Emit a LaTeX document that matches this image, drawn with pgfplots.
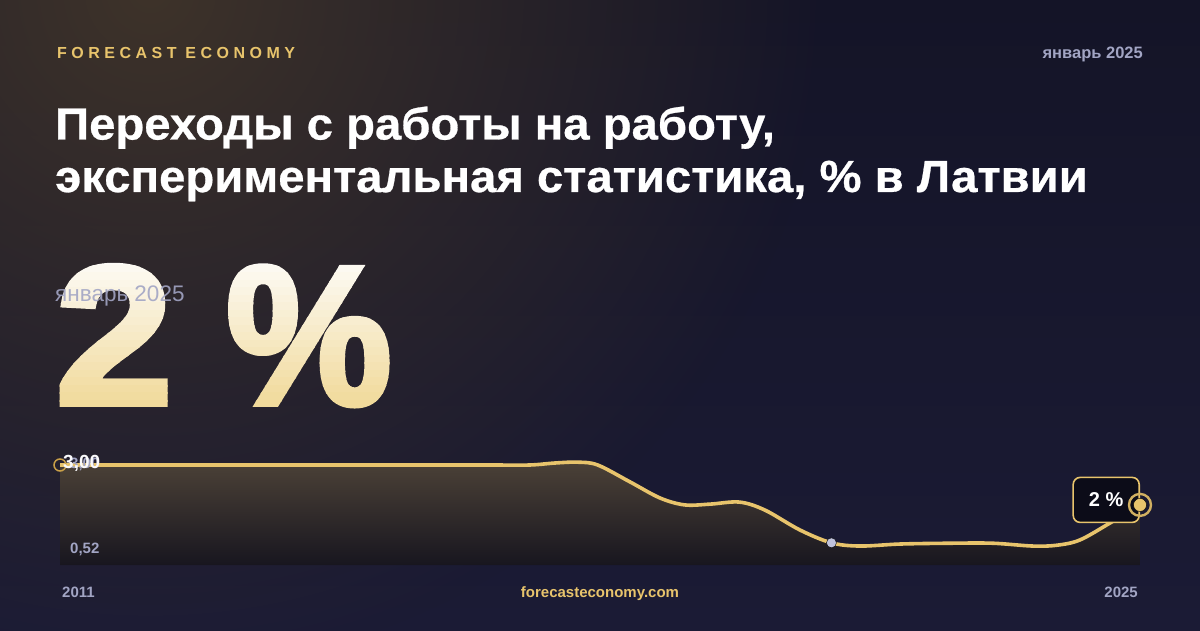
\documentclass[border=0pt]{standalone}
\usepackage{pgfplots}
\pgfplotsset{compat=1.18}
\usepackage{pgfplotstable}
\usetikzlibrary{fadings}
\usepackage{fontspec}
\setmainfont{Liberation Sans}
\newfontfamily\brand{Liberation Sans}[LetterSpace=28]
\newfontfamily\titlefont{Liberation Sans}[BoldFeatures={FakeStretch=1.05, FakeBold=0.6}]
\newfontfamily\bignum{Liberation Sans}[BoldFeatures={FakeBold=3, FakeStretch=1.07}]
\newfontfamily\bigpct{Liberation Sans}[BoldFeatures={FakeBold=3}]

\definecolor{bgtop}{HTML}{141427}
\definecolor{bgbot}{HTML}{1B1B35}
\definecolor{glow}{HTML}{3E332A}
\definecolor{gold}{HTML}{E8C46C}
\definecolor{golddark}{HTML}{C9A048}
\definecolor{lav}{HTML}{A2A5C4}
\definecolor{lavdot}{HTML}{C0C3DD}
\definecolor{filltop}{HTML}{4B4137}
\definecolor{fillbot}{HTML}{18161F}
\definecolor{numtop}{HTML}{FDFBF6}
\definecolor{numbot}{HTML}{F0D896}
\definecolor{boxbg}{HTML}{0C0C18}

\tikzfading[name=glowfade, inner color=transparent!0, outer color=transparent!100]

% job-to-job transitions, %
\pgfplotstableread{
year    val
2011.00 3.00
2012.00 3.00
2013.00 3.00
2014.00 3.00
2015.00 3.00
2016.00 3.00
2016.60 3.00
2017.09 3.00
2017.42 3.05
2017.71 3.07
2017.97 3.00
2018.39 2.58
2018.78 2.18
2019.10 2.01
2019.43 2.03
2019.81 2.08
2020.14 1.88
2020.59 1.39
2021.00 1.07
2021.37 0.99
2021.89 1.04
2022.54 1.06
2023.09 1.06
2023.61 0.99
2023.92 1.01
2024.22 1.14
2024.61 1.56
2025.00 2.01
}\jtj

\begin{document}
\begin{tikzpicture}[x=1pt,y=1pt]
% background
\shade[top color=bgtop, bottom color=bgbot] (0,0) rectangle (1200,630);
\begin{scope}
  \clip (0,0) rectangle (1200,630);
  \fill[glow, path fading=glowfade] (150,640) circle (680);
\end{scope}

% header
\node[anchor=base west, inner sep=0, text=gold, font=\brand\bfseries\fontsize{16}{16}\selectfont] at (57,571) {FORECAST ECONOMY};
\node[anchor=base east, inner sep=0, text=lav, font=\bfseries\fontsize{16.5}{16.5}\selectfont] at (1143,571) {январь 2025};

% title
\node[anchor=base west, inner sep=0, text=white, font=\titlefont\bfseries\fontsize{45}{45}\selectfont] at (55,490.5) {Переходы с работы на работу,};
\node[anchor=base west, inner sep=0, text=white, font=\titlefont\bfseries\fontsize{45}{45}\selectfont] at (55,438) {экспериментальная статистика, \% в Латвии};

% big number with a banded gradient
\foreach \i in {0,...,19}{
  \pgfmathtruncatemacro{\p}{100-5*\i}
  \colorlet{bandcol}{numtop!\p!numbot}
  \begin{scope}
    \clip (0,{372-7.5*\i}) rectangle (700,{372-7.5*(\i+1)-0.6});
    \node[anchor=base west, inner sep=0, text=bandcol, font=\bignum\bfseries\fontsize{198}{198}\selectfont] at (55,226) {2};
    \node[anchor=base west, inner sep=0, xscale=0.94, text=bandcol, font=\bigpct\bfseries\fontsize{198}{198}\selectfont] at (226,226) {\%};
  \end{scope}
}
\node[anchor=base west, inner sep=0, text=lav, opacity=0.9, font=\fontsize{22.5}{22.5}\selectfont] at (55,328) {январь 2025};

\begin{axis}[
  at={(60pt,65pt)}, anchor=south west,
  scale only axis, width=1080pt, height=110pt,
  xmin=2011, xmax=2025, ymin=0.52, ymax=3.248,
  axis lines=none, ticks=none,
]
\addplot[draw=none, top color=filltop, bottom color=fillbot, smooth, tension=0.55] table[x=year, y=val] {\jtj} \closedcycle;
\addplot[gold, line width=3.6pt, smooth, tension=0.55] table[x=year, y=val] {\jtj};
\node[draw=gold, line width=1.6pt, fill=boxbg, rounded corners=7pt, minimum width=66pt, minimum height=45pt,
      anchor=east, inner sep=0, text=white, font=\bfseries\fontsize{20}{20}\selectfont]
      at (axis cs:2025,2.01) [yshift=5pt] {2 \%};
\addplot[only marks, mark=*, mark size=5pt, mark options={fill=lavdot, draw=none}] coordinates {(2021.00,1.07)};
\addplot[only marks, mark=o, mark size=6pt, mark options={draw=golddark, line width=1.5pt}] coordinates {(2011,3.00)};
\addplot[only marks, mark=o, mark size=11pt, mark options={draw=gold!90!black, line width=2.4pt}] coordinates {(2025,2.01)};
\addplot[only marks, mark=*, mark size=6.5pt, mark options={fill=gold, draw=none}] coordinates {(2025,2.01)};
\end{axis}

% value labels
\node[anchor=base west, inner sep=0, text=lav, font=\bfseries\fontsize{15}{15}\selectfont] at (70,161) {3,00};
\node[anchor=base west, inner sep=0, text=white!95!lav, font=\bfseries\fontsize{19}{19}\selectfont] at (63,161) {3,00};
\node[anchor=base west, inner sep=0, text=lav, font=\bfseries\fontsize{15}{15}\selectfont] at (70,77) {0,52};

% footer
\node[anchor=base west, inner sep=0, text=lav, font=\bfseries\fontsize{15}{15}\selectfont] at (62,33) {2011};
\node[anchor=base east, inner sep=0, text=lav, font=\bfseries\fontsize{15}{15}\selectfont] at (1138,33) {2025};
\node[anchor=base, inner sep=0, text=gold, font=\bfseries\fontsize{15}{15}\selectfont] at (600,33) {forecasteconomy.com};
\end{tikzpicture}
\end{document}
